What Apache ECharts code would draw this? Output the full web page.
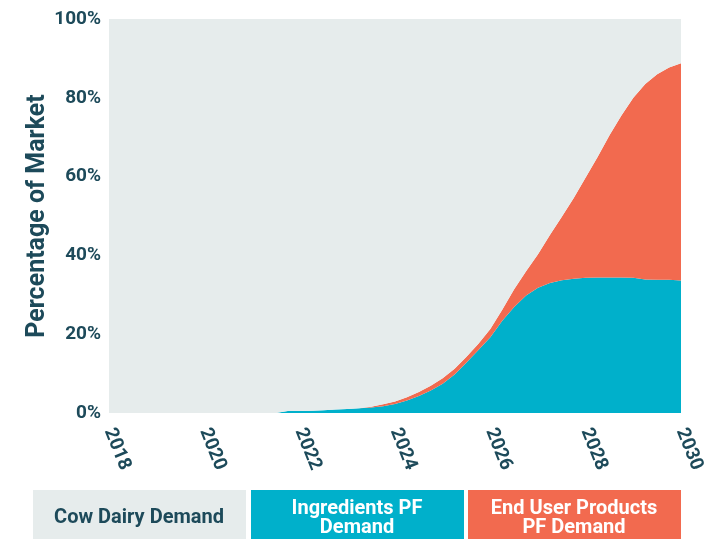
<!DOCTYPE html>
<html>
<head>
<meta charset="utf-8">
<script src="https://cdn.jsdelivr.net/npm/echarts@6/dist/echarts.min.js"></script>
<style>
  html, body { margin: 0; padding: 0; background: #fff; }
  #chart { width: 709px; height: 539px; }
</style>
</head>
<body>
<div id="chart"></div>
<script>
// quarterly time points
const years = [
  '2018', '2018.25', '2018.5', '2018.75', '2019', '2019.25', '2019.5', '2019.75',
  '2020', '2020.25', '2020.5', '2020.75', '2021', '2021.25', '2021.5', '2021.75',
  '2022', '2022.25', '2022.5', '2022.75', '2023', '2023.25', '2023.5', '2023.75',
  '2024', '2024.25', '2024.5', '2024.75', '2025', '2025.25', '2025.5', '2025.75',
  '2026', '2026.25', '2026.5', '2026.75', '2027', '2027.25', '2027.5', '2027.75',
  '2028', '2028.25', '2028.5', '2028.75', '2029', '2029.25', '2029.5', '2029.75', '2030'
];
// ingredients PF demand (% of market)
const ingredients = [
  0, 0, 0, 0, 0, 0, 0, 0,
  0, 0, 0, 0, 0, 0, 0, 0.5,
  0.5, 0.6, 0.7, 0.9, 1.0, 1.2, 1.4, 1.7,
  2.3, 3.2, 4.3, 5.7, 7.4, 9.8, 12.8, 16.0,
  19.2, 23.4, 26.9, 29.8, 31.8, 33.0, 33.7, 34.1,
  34.3, 34.4, 34.4, 34.4, 34.3, 33.9, 33.8, 33.8, 33.6
];
// total PF demand (ingredients + end user products)
const totalPF = [
  0, 0, 0, 0, 0, 0, 0, 0,
  0, 0, 0, 0, 0, 0, 0, 0.5,
  0.5, 0.6, 0.7, 0.9, 1.0, 1.2, 1.6, 2.2,
  2.9, 4.0, 5.3, 6.9, 8.8, 11.2, 14.3, 17.6,
  21.3, 26.2, 31.4, 36.0, 40.3, 45.2, 49.8, 54.6,
  59.8, 65.0, 70.5, 75.5, 80.0, 83.5, 86.0, 87.7, 88.8
];
const yTicks = [0, 20, 40, 60, 80, 100];
const legendNames = ['Cow Dairy Demand', 'Ingredients PF\nDemand', 'End User Products\nPF Demand'];

const textColor = '#1d4a5a';
const grey = '#e6ecec';
const teal = '#00b0cb';
const orange = '#f26a4f';

const endUser = totalPF.map((t, i) => +(t - ingredients[i]).toFixed(2));
const cowDairy = totalPF.map(t => +(100 - t).toFixed(2));

function areaSeries(name, vals, color) {
  return {
    name: name,
    type: 'line',
    stack: 'total',
    symbol: 'none',
    lineStyle: { width: 0 },
    areaStyle: { color: color, opacity: 1 },
    itemStyle: { color: color },
    data: vals
  };
}

const chart = echarts.init(document.getElementById('chart'));

// legend boxes drawn as graphic blocks
const boxColors = [grey, teal, orange];
const boxText = [textColor, '#fff', '#fff'];
const boxX = [33, 251, 468];
const graphics = [];
legendNames.forEach((n, i) => {
  graphics.push({
    type: 'rect',
    left: boxX[i], top: 490,
    shape: { width: 213, height: 50 },
    style: { fill: boxColors[i] }
  });
  graphics.push({
    type: 'text',
    x: boxX[i] + 106, y: 518,
    style: {
      text: n,
      fill: boxText[i],
      font: 'bold 20px Roboto',
      align: 'center',
      verticalAlign: 'middle',
      lineHeight: 19
    }
  });
});

chart.setOption({
  animation: false,
  grid: { left: 109, right: 28, top: 19, bottom: 126 },
  xAxis: {
    type: 'category',
    data: years,
    boundaryGap: false,
    axisLine: { show: false },
    axisTick: { show: false },
    splitLine: { show: false },
    axisLabel: {
      interval: 7,
      rotate: -68,
      margin: 16,
      color: textColor,
      fontFamily: 'Roboto',
      fontWeight: 'bold',
      fontSize: 19
    }
  },
  yAxis: {
    type: 'value',
    min: yTicks[0], max: yTicks[yTicks.length - 1], interval: 20,
    name: 'Percentage of Market',
    nameLocation: 'middle',
    nameGap: 59,
    nameMoveOverlap: false,
    nameTextStyle: {
      color: textColor,
      fontFamily: 'Roboto',
      fontWeight: 'bold',
      fontSize: 25
    },
    axisLine: { show: false },
    axisTick: { show: false },
    splitLine: { show: false },
    axisLabel: {
      margin: 8,
      color: textColor,
      fontFamily: 'Roboto',
      fontWeight: 'bold',
      fontSize: 19,
      formatter: '{value}%'
    }
  },
  series: [
    areaSeries('Ingredients PF Demand', ingredients, teal),
    areaSeries('End User Products PF Demand', endUser, orange),
    areaSeries('Cow Dairy Demand', cowDairy, grey)
  ],
  graphic: graphics
});
</script>
</body>
</html>
